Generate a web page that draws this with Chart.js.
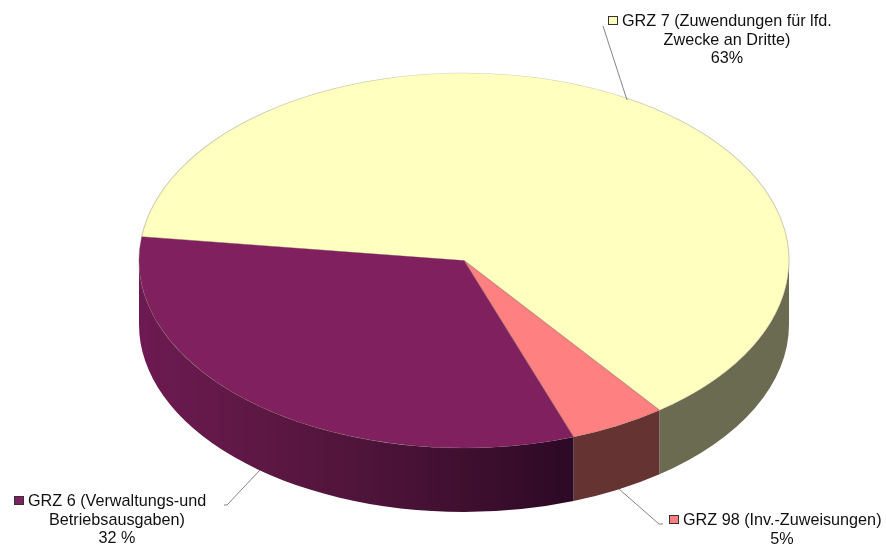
<!DOCTYPE html>
<html>
<head>
<meta charset="utf-8">
<style>
html, body { margin: 0; padding: 0; background: #fff; }
#wrap { width: 886px; height: 549px; }
</style>
<script src="https://cdn.jsdelivr.net/npm/chart.js@4"></script>
</head>
<body>
<div id="wrap"><canvas id="pie" width="886" height="549"></canvas></div>
<script>
// data
const categories = ['GRZ 7 (Zuwendungen für lfd. Zwecke an Dritte)', 'GRZ 98 (Inv.-Zuweisungen)', 'GRZ 6 (Verwaltungs-und Betriebsausgaben)'];
const values = [62.7, 4.8, 32.5];
const percentLabels = ['63%', '5%', '32 %'];
const firstLines = ['GRZ 7 (Zuwendungen für lfd.', 'GRZ 98 (Inv.-Zuweisungen)', 'GRZ 6 (Verwaltungs-und'];
const secondLines = ['Zwecke an Dritte)', '', 'Betriebsausgaben)'];
const topColors = ['#ffffc0', '#ff8080', '#80205f'];

// look of the fake 3d disc
const disc = { x: 464, y: 260.5, rx: 325, ry: 187.5, depth: 64 };
const wallStops = [
    ['#6b6b52'],
    ['#663333'],
    ['#6d1a52', '#5f1845', '#50143a', '#3f0f30', '#2c0924']
];
const labelSpots = [
    { keyX: 608, textX: 622, base: 26, midX: 727, line: [[603, 26], [627, 100]] },
    { keyX: 669, textX: 683, base: 525, midX: 782, line: [[663, 524], [659, 524], [619, 489]] },
    { keyX: 14, textX: 28, base: 506, midX: 117, line: [[224, 505], [227, 505], [260, 470]] }
];
const FONT = '16.2px "Liberation Sans", Arial, sans-serif';
const LINE_H = 18.5;

// helpers
function frontPart(a0, a1) {
    // visible wall is the part of the arc between 0 and pi (also one turn later)
    const parts = [];
    [0, 2 * Math.PI].forEach(function(base) {
        const s = Math.max(a0, base);
        const e = Math.min(a1, base + Math.PI);
        if (e > s) parts.push([s, e]);
    });
    return parts;
}

function drawWalls(chart) {
    const ctx = chart.ctx;
    const arcs = chart.getDatasetMeta(0).data;
    arcs.forEach(function(arc, i) {
        frontPart(arc.startAngle, arc.endAngle).forEach(function(p) {
            const x0 = disc.x + disc.rx * Math.cos(p[0]);
            const x1 = disc.x + disc.rx * Math.cos(p[1]);
            const stops = wallStops[i];
            let fill = stops[0];
            if (stops.length > 1) {
                fill = ctx.createLinearGradient(x1, 0, x0, 0);
                stops.forEach(function(c, n) { fill.addColorStop(n / (stops.length - 1), c); });
            }
            ctx.beginPath();
            ctx.ellipse(disc.x, disc.y, disc.rx, disc.ry, 0, p[0], p[1]);
            ctx.ellipse(disc.x, disc.y + disc.depth, disc.rx, disc.ry, 0, p[1], p[0], true);
            ctx.closePath();
            ctx.fillStyle = fill;
            ctx.fill();
        });
    });
}

function drawLabels(chart) {
    const ctx = chart.ctx;
    ctx.save();
    ctx.font = FONT;
    ctx.textBaseline = 'alphabetic';
    labelSpots.forEach(function(s, i) {
        // leader line
        ctx.beginPath();
        s.line.forEach(function(pt, n) {
            if (n == 0) ctx.moveTo(pt[0], pt[1]);
            else ctx.lineTo(pt[0], pt[1]);
        });
        ctx.strokeStyle = '#666';
        ctx.lineWidth = 0.8;
        ctx.stroke();
        // legend key
        ctx.fillStyle = topColors[i];
        ctx.fillRect(s.keyX + 0.5, s.base - 9.5, 9, 8);
        ctx.strokeStyle = '#333';
        ctx.lineWidth = 1;
        ctx.strokeRect(s.keyX + 0.5, s.base - 9.5, 9, 8);
        // text
        ctx.fillStyle = '#111';
        ctx.textAlign = 'left';
        ctx.fillText(firstLines[i], s.textX, s.base);
        ctx.textAlign = 'center';
        let y = s.base + LINE_H;
        if (secondLines[i] != '') {
            ctx.fillText(secondLines[i], s.midX, y);
            y += LINE_H;
        }
        ctx.fillText(percentLabels[i], s.midX, y);
    });
    ctx.restore();
}

const disc3d = {
    id: 'disc3d',
    beforeDatasetsDraw(chart) {
        drawWalls(chart);
        // squash the round pie into the ellipse of the disc top
        const arc = chart.getDatasetMeta(0).data[0];
        const ctx = chart.ctx;
        ctx.save();
        ctx.translate(disc.x, disc.y);
        ctx.scale(disc.rx / arc.outerRadius, disc.ry / arc.outerRadius);
        ctx.translate(-arc.x, -arc.y);
    },
    afterDatasetsDraw(chart) {
        chart.ctx.restore();
        drawLabels(chart);
    }
};

window.onload = function() {
    new Chart(document.getElementById('pie'), {
        type: 'pie',
        data: {
            labels: categories,
            datasets: [{
                data: values,
                backgroundColor: topColors,
                borderColor: 'rgba(110,90,70,0.3)',
                borderWidth: 1
            }]
        },
        options: {
            responsive: false,
            animation: false,
            rotation: 277.3,
            layout: { padding: 0 },
            plugins: { legend: { display: false }, tooltip: { enabled: false } }
        },
        plugins: [disc3d]
    });
};
</script>
</body>
</html>
